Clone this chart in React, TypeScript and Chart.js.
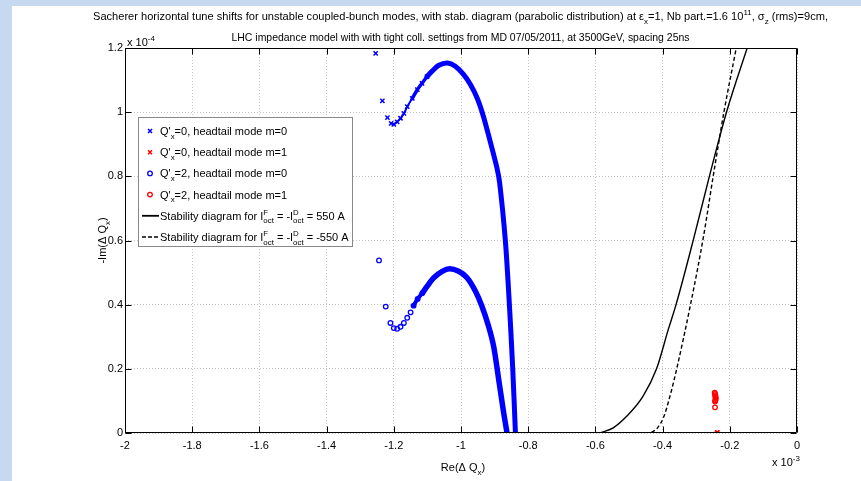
import React, { useEffect, useRef } from 'react';
import { Chart, registerables } from 'chart.js';

Chart.register(...registerables);

// x values in units of 1e-3, y values in units of 1e-4
const xTickValues = [-2, -1.8, -1.6, -1.4, -1.2, -1, -0.8, -0.6, -0.4, -0.2, 0];
const xTickLabels = ['-2', '-1.8', '-1.6', '-1.4', '-1.2', '-1', '-0.8', '-0.6', '-0.4', '-0.2', '0'];
const yTickValues = [0, 0.2, 0.4, 0.6, 0.8, 1, 1.2];
const yTickLabels = ['0', '0.2', '0.4', '0.6', '0.8', '1', '1.2'];

// Q'x = 0, headtail mode m = 0 (blue crosses)
const q0m0Re = [-1.254, -1.234, -1.219, -1.208, -1.2, -1.19, -1.18, -1.17, -1.16, -1.145, -1.13, -1.116, -1.101, -1.086, -1.066, -1.04, -1.017, -0.992, -0.972, -0.952, -0.933, -0.913, -0.893, -0.885, -0.868, -0.856, -0.846, -0.838];
const q0m0Im = [1.183, 1.035, 0.983, 0.965, 0.962, 0.97, 0.981, 0.996, 1.017, 1.043, 1.07, 1.09, 1.111, 1.128, 1.146, 1.153, 1.143, 1.117, 1.086, 1.044, 0.986, 0.908, 0.826, 0.78, 0.6, 0.4, 0.2, 0.0];
// Q'x = 0, headtail mode m = 1 (red crosses)
const q0m1Re = [-0.237, -0.238];
const q0m1Im = [0.002, 0.001];
// Q'x = 2, headtail mode m = 0 (blue circles)
const q2m0Re = [-1.244, -1.224, -1.21, -1.2, -1.19, -1.18, -1.17, -1.16, -1.15, -1.141, -1.129, -1.115, -1.101, -1.081, -1.056, -1.034, -1.007, -0.982, -0.957, -0.938, -0.918, -0.903, -0.888, -0.873, -0.863];
const q2m0Im = [0.538, 0.394, 0.343, 0.327, 0.325, 0.331, 0.343, 0.359, 0.376, 0.397, 0.418, 0.436, 0.457, 0.484, 0.504, 0.512, 0.504, 0.484, 0.442, 0.396, 0.333, 0.271, 0.168, 0.063, 0.0];
// Q'x = 2, headtail mode m = 1 (red circles)
const q2m1Re = [-0.245, -0.244, -0.243, -0.243, -0.242, -0.242, -0.243, -0.244, -0.244];
const q2m1Im = [0.126, 0.122, 0.118, 0.114, 0.11, 0.106, 0.102, 0.098, 0.08];
// Stability diagram, I_oct = 550 A (solid)
const sdPosRe = [-2, -0.593, -0.572, -0.547, -0.507, -0.458, -0.418, -0.383, -0.36, -0.307, -0.26, -0.209, -0.147];
const sdPosIm = [0, 0, 0.005, 0.016, 0.052, 0.115, 0.2, 0.323, 0.4, 0.608, 0.803, 1.003, 1.204];
// Stability diagram, I_oct = -550 A (dashed)
const sdNegRe = [-2, -0.44, -0.428, -0.415, -0.396, -0.378, -0.358, -0.317, -0.279, -0.249, -0.217, -0.18];
const sdNegIm = [0, 0, 0.005, 0.016, 0.052, 0.115, 0.2, 0.4, 0.608, 0.803, 1.003, 1.204];

const FONT = '"Liberation Sans", Arial, Helvetica, sans-serif';
const BLUE = '#0000ff';
const RED = '#ff0000';
const CLEAR = 'rgba(0,0,0,0)';

type Seg = { t?: string; sub?: string; sup?: string };

const pts = (xs: number[], ys: number[]) => xs.map((x, i) => ({ x, y: ys[i] }));

function segW(ctx: CanvasRenderingContext2D, s: Seg, size: number) {
  if (s.t !== undefined) {
    ctx.font = `${size}px ${FONT}`;
    return ctx.measureText(s.t).width;
  }
  ctx.font = `${size * 0.72}px ${FONT}`;
  const a = s.sup ? ctx.measureText(s.sup).width : 0;
  const b = s.sub ? ctx.measureText(s.sub).width : 0;
  return Math.max(a, b);
}

function richW(ctx: CanvasRenderingContext2D, segs: Seg[], size: number) {
  return segs.reduce((acc, s) => acc + segW(ctx, s, size), 0);
}

function drawRich(
  ctx: CanvasRenderingContext2D,
  segs: Seg[],
  x: number,
  y: number,
  size: number,
  align: 'left' | 'center',
  color: string,
  targetWidth?: number
) {
  const w = richW(ctx, segs, size);
  const sx = targetWidth ? targetWidth / w : 1;
  const start = align === 'center' ? x - (w * sx) / 2 : x;
  ctx.save();
  ctx.translate(start, y);
  ctx.scale(sx, 1);
  ctx.fillStyle = color;
  ctx.textAlign = 'left';
  ctx.textBaseline = 'alphabetic';
  let cx = 0;
  for (const s of segs) {
    const sw = segW(ctx, s, size);
    if (s.t !== undefined) {
      ctx.font = `${size}px ${FONT}`;
      ctx.fillText(s.t, cx, 0);
    } else {
      ctx.font = `${size * 0.72}px ${FONT}`;
      if (s.sup) ctx.fillText(s.sup, cx, -size * 0.42);
      if (s.sub) ctx.fillText(s.sub, cx, size * 0.32);
    }
    cx += sw;
  }
  ctx.restore();
}

const title1: Seg[] = [
  { t: 'Sacherer horizontal tune shifts for unstable coupled-bunch modes, with stab. diagram (parabolic distribution) at \u03b5' },
  { sub: 'x' },
  { t: '=1, Nb part.=1.6 10' },
  { sup: '11' },
  { t: ', \u03c3' },
  { sub: 'z' },
  { t: ' (rms)=9cm,' },
];
const title2: Seg[] = [
  { t: 'LHC impedance model with with tight coll. settings from MD 07/05/2011, at 3500GeV, spacing 25ns' },
];

const legendEntries: { kind: string; color: string; segs: Seg[] }[] = [
  { kind: 'cross', color: BLUE, segs: [{ t: "Q'" }, { sub: 'x' }, { t: '=0, headtail mode m=0' }] },
  { kind: 'cross', color: RED, segs: [{ t: "Q'" }, { sub: 'x' }, { t: '=0, headtail mode m=1' }] },
  { kind: 'circle', color: BLUE, segs: [{ t: "Q'" }, { sub: 'x' }, { t: '=2, headtail mode m=0' }] },
  { kind: 'circle', color: RED, segs: [{ t: "Q'" }, { sub: 'x' }, { t: '=2, headtail mode m=1' }] },
  {
    kind: 'solid',
    color: '#000',
    segs: [{ t: 'Stability diagram for I' }, { sup: 'F', sub: 'oct' }, { t: ' = -I' }, { sup: 'D', sub: 'oct' }, { t: ' = 550 A' }],
  },
  {
    kind: 'dashed',
    color: '#000',
    segs: [{ t: 'Stability diagram for I' }, { sup: 'F', sub: 'oct' }, { t: ' = -I' }, { sup: 'D', sub: 'oct' }, { t: ' = -550 A' }],
  },
];

const decorPlugin = {
  id: 'decor',
  beforeDraw(chart: any) {
    const ctx: CanvasRenderingContext2D = chart.ctx;
    ctx.save();
    ctx.fillStyle = '#ffffff';
    ctx.fillRect(0, 0, chart.width, chart.height);
    ctx.fillStyle = '#c6d9f0';
    ctx.fillRect(0, 0, chart.width, 6);
    ctx.fillRect(0, 0, 12, chart.height);
    ctx.restore();
  },
  afterDraw(chart: any) {
    const ctx: CanvasRenderingContext2D = chart.ctx;
    const { left, right, top, bottom } = chart.chartArea;
    const xs = chart.scales.x;
    const ys = chart.scales.y;
    const L = Math.round(left) + 0.5;
    const R = Math.round(right) - 0.5;
    const T = Math.round(top) + 0.5;
    const B = Math.round(bottom) - 0.5;
    ctx.save();
    // box
    ctx.strokeStyle = '#000';
    ctx.lineWidth = 1;
    ctx.beginPath();
    ctx.rect(L, T, R - L, B - T);
    ctx.stroke();
    // inward ticks
    const tl = 6;
    ctx.beginPath();
    for (const v of xTickValues) {
      const px = Math.round(xs.getPixelForValue(v)) + 0.5;
      ctx.moveTo(px, B);
      ctx.lineTo(px, B - tl);
      ctx.moveTo(px, T);
      ctx.lineTo(px, T + tl);
    }
    for (const v of yTickValues) {
      const py = Math.round(ys.getPixelForValue(v)) + 0.5;
      ctx.moveTo(L, py);
      ctx.lineTo(L + tl, py);
      ctx.moveTo(R, py);
      ctx.lineTo(R - tl, py);
    }
    ctx.stroke();

    // titles
    drawRich(ctx, title1, 460.5, 20, 11, 'center', '#000', 735);
    drawRich(ctx, title2, 460.5, 41, 11, 'center', '#000', 458);

    // exponent labels
    drawRich(ctx, [{ t: 'x 10' }, { sup: '-4' }], 127, 46, 11, 'left', '#000');
    drawRich(ctx, [{ t: 'x 10' }, { sup: '-3' }], 772, 466, 11, 'left', '#000');

    // axis titles
    drawRich(ctx, [{ t: 'Re(\u0394 Q' }, { sub: 'x' }, { t: ')' }], 463, 471, 11, 'center', '#000');
    ctx.save();
    ctx.translate(106, (top + bottom) / 2);
    ctx.rotate(-Math.PI / 2);
    drawRich(ctx, [{ t: '-Im(\u0394 Q' }, { sub: 'x' }, { t: ')' }], 0, 0, 11, 'center', '#000');
    ctx.restore();

    // legend
    const bx = 138.5, by = 117.5, bw = 214, bh = 129;
    ctx.fillStyle = '#fff';
    ctx.fillRect(bx, by, bw, bh);
    ctx.strokeStyle = '#888';
    ctx.lineWidth = 1;
    ctx.strokeRect(bx, by, bw, bh);
    legendEntries.forEach((e, i) => {
      const cy = 131 + i * 21.2;
      const mx = 150;
      ctx.save();
      ctx.strokeStyle = e.color;
      if (e.kind === 'cross') {
        ctx.lineWidth = 1.5;
        const d = 2;
        ctx.beginPath();
        ctx.moveTo(mx - d, cy - d);
        ctx.lineTo(mx + d, cy + d);
        ctx.moveTo(mx - d, cy + d);
        ctx.lineTo(mx + d, cy - d);
        ctx.stroke();
      } else if (e.kind === 'circle') {
        ctx.lineWidth = 1.3;
        ctx.beginPath();
        ctx.arc(mx, cy, 2.3, 0, Math.PI * 2);
        ctx.stroke();
      } else {
        ctx.lineWidth = e.kind === 'solid' ? 1.8 : 1.5;
        if (e.kind === 'dashed') ctx.setLineDash([4, 2]);
        ctx.beginPath();
        ctx.moveTo(142, cy);
        ctx.lineTo(159, cy);
        ctx.stroke();
      }
      ctx.restore();
      drawRich(ctx, e.segs, 160, cy + 4, 11, 'left', '#000');
    });
    ctx.restore();
  },
};

export default function App() {
  const ref = useRef<HTMLCanvasElement | null>(null);
  useEffect(() => {
    if (!ref.current) return;
    const tallStart = 4;
    const smallStart = 9;
    const chart = new Chart(ref.current, {
      type: 'scatter',
      data: {
        datasets: [
          {
            label: "Q'x=0, headtail mode m=0",
            data: pts(q0m0Re, q0m0Im),
            showLine: true,
            borderColor: BLUE,
            backgroundColor: BLUE,
            borderWidth: 5,
            borderCapStyle: 'round',
            borderJoinStyle: 'round',
            tension: 0.3,
            pointStyle: 'crossRot',
            pointRadius: (c: any) => (c.dataIndex < 13 ? 3 : 0),
            pointBorderWidth: 1.5,
            pointBorderColor: BLUE,
            segment: {
              borderColor: (c: any) => (c.p0DataIndex >= tallStart ? BLUE : CLEAR),
              borderWidth: (c: any) => (c.p0DataIndex < 9 ? 2 : c.p0DataIndex < 12 ? 3.5 : 5),
            },
          } as any,
          {
            label: "Q'x=2, headtail mode m=0",
            data: pts(q2m0Re, q2m0Im),
            showLine: true,
            borderColor: BLUE,
            backgroundColor: CLEAR,
            borderWidth: 5.5,
            borderCapStyle: 'round',
            borderJoinStyle: 'round',
            tension: 0.3,
            pointStyle: 'circle',
            pointRadius: (c: any) => (c.dataIndex < smallStart + 3 ? 2.3 : 0),
            pointBorderWidth: 1.3,
            pointBorderColor: BLUE,
            pointBackgroundColor: CLEAR,
            segment: {
              borderColor: (c: any) => (c.p0DataIndex >= smallStart ? BLUE : CLEAR),
              borderWidth: (c: any) => (c.p0DataIndex < smallStart + 2 ? 4 : 5.5),
            },
          } as any,
          {
            label: 'Stability diagram 550 A',
            data: pts(sdPosRe, sdPosIm),
            showLine: true,
            borderColor: '#000',
            borderWidth: 1.4,
            pointRadius: 0,
            cubicInterpolationMode: 'monotone',
          },
          {
            label: 'Stability diagram -550 A',
            data: pts(sdNegRe, sdNegIm),
            showLine: true,
            borderColor: '#000',
            borderWidth: 1.4,
            borderDash: [4, 2.5],
            pointRadius: 0,
            cubicInterpolationMode: 'monotone',
          },
          {
            label: "Q'x=0, headtail mode m=1",
            data: pts(q0m1Re, q0m1Im),
            showLine: false,
            pointStyle: 'crossRot',
            pointRadius: 3,
            pointBorderWidth: 1.5,
            pointBorderColor: RED,
            backgroundColor: RED,
            borderColor: RED,
          },
          {
            label: "Q'x=2, headtail mode m=1",
            data: pts(q2m1Re, q2m1Im),
            showLine: false,
            pointStyle: 'circle',
            pointRadius: 2.3,
            pointBorderWidth: 1.3,
            pointBorderColor: RED,
            pointBackgroundColor: CLEAR,
            borderColor: RED,
          },
        ],
      },
      options: {
        responsive: false,
        animation: false,
        devicePixelRatio: 1,
        layout: { padding: { top: 48, right: 64, left: 0, bottom: 0 } },
        plugins: {
          legend: { display: false },
          title: { display: false },
          tooltip: { enabled: false },
        },
        scales: {
          x: {
            type: 'linear',
            min: -2,
            max: 0,
            afterBuildTicks: (s: any) => {
              s.ticks = xTickValues.map((v) => ({ value: v }));
            },
            afterFit: (s: any) => {
              s.height = 48;
            },
            ticks: {
              autoSkip: false,
              maxRotation: 0,
              padding: 6,
              color: '#000',
              font: { family: FONT, size: 11 },
              callback: (_v: any, i: number) => xTickLabels[i],
            },
            grid: { color: '#c4c4c4', lineWidth: 1, drawTicks: false },
            border: { display: false, dash: [1, 2] },
          },
          y: {
            type: 'linear',
            min: 0,
            max: 1.2,
            afterBuildTicks: (s: any) => {
              s.ticks = yTickValues.map((v) => ({ value: v }));
            },
            afterFit: (s: any) => {
              s.width = 125;
            },
            ticks: {
              autoSkip: false,
              padding: 2,
              color: '#000',
              font: { family: FONT, size: 11 },
              callback: (_v: any, i: number) => yTickLabels[i],
            },
            grid: { color: '#c4c4c4', lineWidth: 1, drawTicks: false },
            border: { display: false, dash: [1, 2] },
          },
        },
      } as any,
      plugins: [decorPlugin],
    });
    return () => chart.destroy();
  }, []);
  return (
    <div style={{ position: 'absolute', left: 0, top: 0, width: 861, height: 481 }}>
      <canvas ref={ref} width={861} height={481} style={{ display: 'block', width: 861, height: 481 }} />
    </div>
  );
}
